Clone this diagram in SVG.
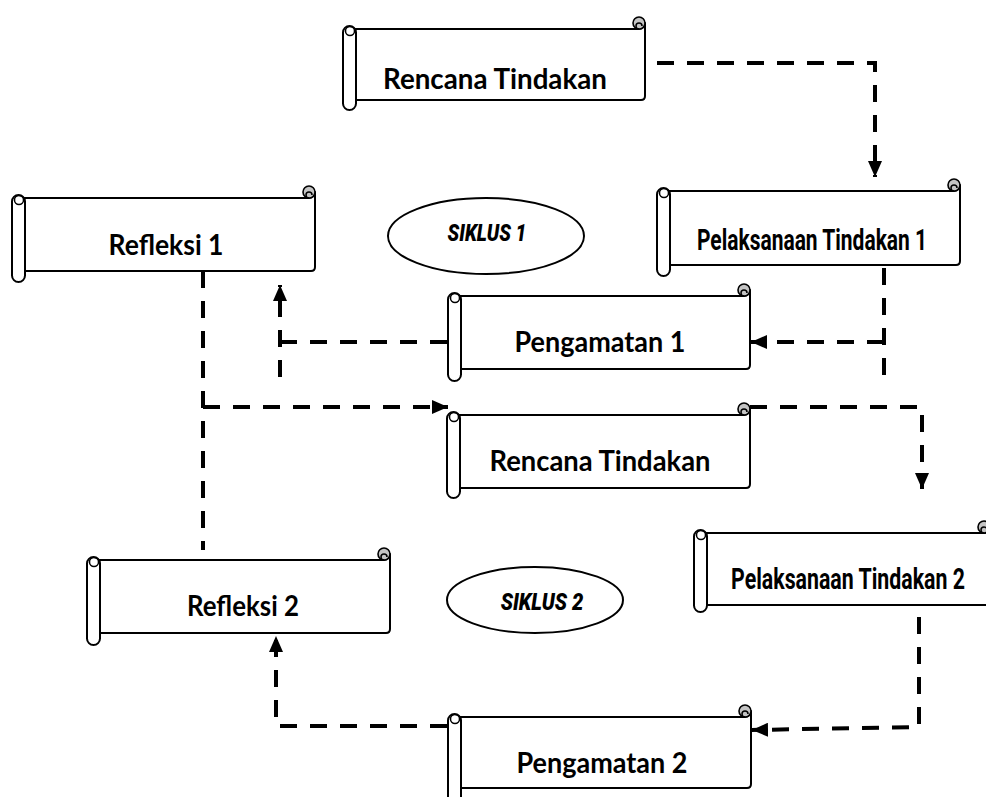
<svg xmlns="http://www.w3.org/2000/svg" width="986" height="797" viewBox="0 0 986 797">
<style>
.body{fill:#fff;stroke:#000;stroke-width:2;stroke-linejoin:round}
.pill{fill:#fff;stroke:#000;stroke-width:2}
.curl{fill:#c4c4c4;stroke:#000;stroke-width:1.6}
.loop{fill:none;stroke:#000;stroke-width:1.5}
.ell{fill:#fff;stroke:#000;stroke-width:2}
.lbl{font-family:Lato,"Open Sans","Noto Sans",sans-serif;font-weight:700;font-size:28px;fill:#000;text-anchor:middle}
.cond{font-family:Roboto,"Liberation Sans",sans-serif;font-weight:700;font-size:29px;fill:#000;text-anchor:middle}
.sik{font-family:Roboto,"Liberation Sans",sans-serif;font-weight:900;font-style:italic;font-size:23px;fill:#000;text-anchor:middle}
.dash{fill:none;stroke:#000;stroke-width:4;stroke-dasharray:17 13}
</style>
<defs>
<marker id="arr" markerUnits="userSpaceOnUse" viewBox="0 0 16 14" markerWidth="16" markerHeight="14" refX="16" refY="7" orient="auto">
<path d="M0,0 L16,7 L0,14 Z" fill="#000"/>
</marker>
</defs>

<g id="connectors">
<path class="dash" d="M657,63 H875 V177" marker-end="url(#arr)"/>
<path class="dash" d="M884,268 V377"/>
<path class="dash" d="M884,342 H751" marker-end="url(#arr)"/>
<path class="dash" d="M447,342 H280"/>
<path class="dash" d="M280,377 V285" marker-end="url(#arr)"/>
<path class="dash" d="M203,271 V550"/>
<path class="dash" d="M203,407 H448" marker-end="url(#arr)"/>
<path class="dash" d="M750,407 H922 V489" marker-end="url(#arr)"/>
<path class="dash" d="M919,617 V727 L752,730" marker-end="url(#arr)"/>
<path class="dash" d="M447,726 H276 V636" marker-end="url(#arr)"/>
</g>

<g id="rencana1">
<path class="body" d="M349,29 H639 A6,6 0 0 0 645,23 V96 Q645,100 641,100 H349 Z"/>
<circle class="curl" cx="639" cy="23" r="6"/>
<path class="loop" d="M639,29 a3,3 0 1 1 3,-3"/>
<rect class="pill" x="343" y="26" width="13" height="84" rx="6.5"/>
<circle class="loop" cx="350" cy="31" r="4.5"/>
<text class="lbl" x="495" y="89" textLength="224" lengthAdjust="spacingAndGlyphs">Rencana Tindakan</text>
</g>

<g id="refleksi1">
<path class="body" d="M18,198 H309 A6,6 0 0 0 315,192 V267 Q315,271 311,271 H18 Z"/>
<circle class="curl" cx="309" cy="192" r="6"/>
<path class="loop" d="M309,198 a3,3 0 1 1 3,-3"/>
<rect class="pill" x="12" y="195" width="13" height="87" rx="6.5"/>
<circle class="loop" cx="19" cy="200" r="4.5"/>
<text class="lbl" x="166" y="255" textLength="115" lengthAdjust="spacingAndGlyphs">Refleksi 1</text>
</g>

<g id="pelaksanaan1">
<path class="body" d="M663,191 H954 A6,6 0 0 0 960,185 V261 Q960,265 956,265 H663 Z"/>
<circle class="curl" cx="954" cy="185" r="6"/>
<path class="loop" d="M954,191 a3,3 0 1 1 3,-3"/>
<rect class="pill" x="657" y="188" width="13" height="88" rx="6.5"/>
<circle class="loop" cx="664" cy="193" r="4.5"/>
<text class="cond" transform="translate(812,250) scale(0.74,1)" x="0" y="0" textLength="311" lengthAdjust="spacingAndGlyphs">Pelaksanaan Tindakan 1</text>
</g>

<g id="siklus1">
<ellipse class="ell" cx="486" cy="236" rx="98" ry="38"/>
<text class="sik" transform="translate(487,241) scale(0.78,1)" x="0" y="0" textLength="101" lengthAdjust="spacingAndGlyphs">SIKLUS 1</text>
</g>

<g id="pengamatan1">
<path class="body" d="M454,296 H744 A6,6 0 0 0 750,290 V365 Q750,369 746,369 H454 Z"/>
<circle class="curl" cx="744" cy="290" r="6"/>
<path class="loop" d="M744,296 a3,3 0 1 1 3,-3"/>
<rect class="pill" x="448" y="293" width="13" height="88" rx="6.5"/>
<circle class="loop" cx="455" cy="298" r="4.5"/>
<text class="lbl" x="600" y="352" textLength="171" lengthAdjust="spacingAndGlyphs">Pengamatan 1</text>
</g>

<g id="rencana2">
<path class="body" d="M453,415 H744 A6,6 0 0 0 750,409 V484 Q750,488 746,488 H453 Z"/>
<circle class="curl" cx="744" cy="409" r="6"/>
<path class="loop" d="M744,415 a3,3 0 1 1 3,-3"/>
<rect class="pill" x="447" y="412" width="13" height="86" rx="6.5"/>
<circle class="loop" cx="454" cy="417" r="4.5"/>
<text class="lbl" x="600" y="471" textLength="221" lengthAdjust="spacingAndGlyphs">Rencana Tindakan</text>
</g>

<g id="pelaksanaan2">
<path class="body" d="M700,533 H984 A6,6 0 0 0 990,527 V601 Q990,605 986,605 H700 Z"/>
<circle class="curl" cx="984" cy="527" r="6"/>
<path class="loop" d="M984,533 a3,3 0 1 1 3,-3"/>
<rect class="pill" x="694" y="530" width="13" height="82" rx="6.5"/>
<circle class="loop" cx="701" cy="535" r="4.5"/>
<text class="cond" transform="translate(848,589) scale(0.74,1)" x="0" y="0" textLength="316" lengthAdjust="spacingAndGlyphs">Pelaksanaan Tindakan 2</text>
</g>

<g id="siklus2">
<ellipse class="ell" cx="535" cy="600" rx="88" ry="33"/>
<text class="sik" transform="translate(542,610) scale(0.78,1)" x="0" y="0" textLength="106" lengthAdjust="spacingAndGlyphs">SIKLUS 2</text>
</g>

<g id="refleksi2">
<path class="body" d="M93,560 H384 A6,6 0 0 0 390,554 V629 Q390,633 386,633 H93 Z"/>
<circle class="curl" cx="384" cy="554" r="6"/>
<path class="loop" d="M384,560 a3,3 0 1 1 3,-3"/>
<rect class="pill" x="87" y="557" width="13" height="88" rx="6.5"/>
<circle class="loop" cx="94" cy="562" r="4.5"/>
<text class="lbl" x="243" y="616" textLength="112" lengthAdjust="spacingAndGlyphs">Refleksi 2</text>
</g>

<g id="pengamatan2">
<path class="body" d="M454,717 H745 A6,6 0 0 0 751,711 V784 Q751,788 747,788 H454 Z"/>
<circle class="curl" cx="745" cy="711" r="6"/>
<path class="loop" d="M745,717 a3,3 0 1 1 3,-3"/>
<rect class="pill" x="448" y="714" width="13" height="90" rx="6.5"/>
<circle class="loop" cx="455" cy="719" r="4.5"/>
<text class="lbl" x="602" y="773" textLength="171" lengthAdjust="spacingAndGlyphs">Pengamatan 2</text>
</g>
</svg>
